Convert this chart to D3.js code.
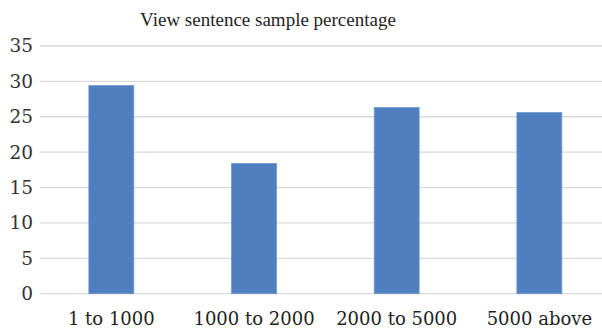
<!DOCTYPE html>
<html>
<head>
<meta charset="utf-8">
<script src="https://cdn.jsdelivr.net/npm/d3@7"></script>
<style>
  html, body { margin: 0; padding: 0; background: #fff; overflow: hidden; }
  svg { display: block; }
</style>
</head>
<body>
<div id="chart"></div>
<script>
const title = "View sentence sample percentage";
const categories = ["1 to 1000", "1000 to 2000", "2000 to 5000", "5000 above"];
const values = [29.4, 18.4, 26.3, 25.6];
const yTicks = [0, 5, 10, 15, 20, 25, 30, 35];

(function () {
const W = 602, H = 334;
const svg = d3.select("#chart").append("svg").attr("width", W).attr("height", H);

const mLeft = 40, mRight = 610.7, mTop = 46, mBottom = 293.7;

const x = d3.scaleBand().domain(categories).range([mLeft, mRight])
  .paddingInner(0.685).paddingOuter(0.3425).align(0.5);
const y = d3.scaleLinear().domain([0, 35]).range([mBottom, mTop]);

// gridlines
svg.append("g").selectAll("line").data(yTicks).join("line")
  .attr("x1", mLeft).attr("x2", W)
  .attr("y1", d => y(d)).attr("y2", d => y(d))
  .attr("stroke", "#d9d9d9").attr("stroke-width", 1.3);

// y axis labels
const yAxis = d3.axisLeft(y).tickValues(yTicks).tickSize(0).tickPadding(0);
const gy = svg.append("g").attr("transform", "translate(33,0)").call(yAxis);
gy.select(".domain").remove();
gy.selectAll("text")
  .attr("font-family", "'DejaVu Serif', serif")
  .attr("font-size", 18.5).attr("fill", "#333333");

// bars
svg.append("g").selectAll("rect").data(values).join("rect")
  .attr("x", (d, i) => x(categories[i]))
  .attr("width", x.bandwidth())
  .attr("y", d => y(d))
  .attr("height", d => y(0) - y(d))
  .attr("fill", "#4f7fbe")
  .attr("stroke", "#6e98cc").attr("stroke-width", 0.8);

// x axis labels
const xAxis = d3.axisBottom(x).tickSize(0).tickPadding(0);
const gx = svg.append("g").attr("transform", "translate(0,312)").call(xAxis);
gx.select(".domain").remove();
gx.selectAll("text")
  .attr("font-family", "'DejaVu Serif', serif")
  .attr("font-size", 18).attr("fill", "#1f1f1f");

// title
svg.append("text")
  .attr("x", 268).attr("y", 26)
  .attr("text-anchor", "middle")
  .attr("font-family", "'Liberation Serif', 'Times New Roman', serif")
  .attr("font-size", 19)
  .attr("fill", "#1f1f1f")
  .text(title);
})();
</script>
</body>
</html>
